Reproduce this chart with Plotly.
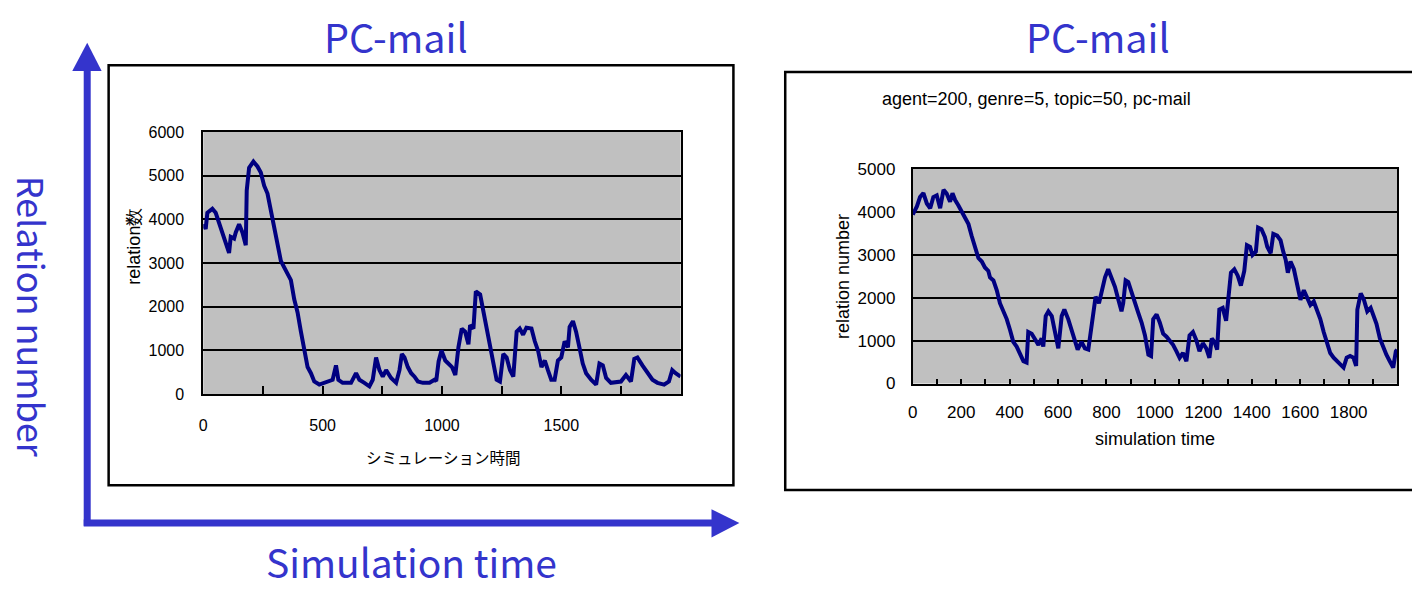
import plotly.graph_objects as go

# ---- data: relation count over simulation time ----
left_time = [0, 10, 17, 38, 52, 73, 94, 108, 115, 129, 136, 150, 164, 178, 182, 192, 210, 227, 241, 255,
             269, 283, 297, 311, 325, 339, 353, 367, 381, 395, 409, 423, 437, 451, 465, 486, 507, 528, 542, 556,
             566, 584, 619, 640, 654, 675, 696, 710, 724, 738, 752, 766, 787, 808, 822, 832, 843, 857, 871, 885,
             899, 920, 948, 969, 976, 986, 998, 1014, 1028, 1042, 1056, 1069, 1083, 1097, 1111, 1118, 1132, 1142,
             1160, 1174, 1188, 1201, 1215, 1229, 1243, 1257, 1271, 1285, 1299, 1313, 1326, 1340, 1354, 1375,
             1389, 1403, 1417, 1431, 1444, 1458, 1472, 1486, 1500, 1514, 1528, 1535, 1549, 1562, 1576, 1590,
             1604, 1625, 1646, 1660, 1674, 1688, 1708, 1750, 1771, 1792, 1806, 1819, 1840, 1861, 1882, 1903,
             1931, 1951, 1965, 1979, 2000]
left_relations = [3890, 3780, 4150, 4240, 4150, 3780, 3410, 3230, 3600, 3560, 3700, 3890, 3700, 3410, 4660, 5180,
                  5320, 5210, 5070, 4770, 4590, 4220, 3860, 3410, 3050, 2900, 2750, 2610, 2170, 1870, 1430, 1070,
                  620, 480, 290, 220, 260, 290, 330, 660, 330, 260, 260, 480, 330, 260, 180, 330, 840, 550, 400,
                  550, 370, 260, 550, 920, 840, 620, 480, 400, 290, 260, 260, 330, 300, 750, 1000, 770, 700, 620,
                  440, 1070, 1500, 1430, 1140, 1580, 1500, 2350, 2280, 1870, 1500, 1140, 700, 330, 290, 920, 840,
                  550, 400, 1430, 1500, 1360, 1520, 1500, 1210, 990, 620, 770, 550, 330, 330, 770, 840, 1210,
                  1070, 1540, 1670, 1430, 1070, 700, 480, 330, 220, 700, 660, 370, 260, 290, 440, 290, 810, 840,
                  660, 480, 330, 260, 220, 290, 550, 480, 400]

right_time = [0, 17, 30, 44, 58, 72, 85, 99, 113, 127, 140, 154, 164, 175, 188, 202, 216, 230, 243, 257, 271,
              285, 298, 312, 319, 333, 347, 360, 374, 388, 402, 415, 429, 443, 457, 470, 477, 491, 505, 519, 532,
              539, 549, 560, 574, 587, 601, 615, 626, 642, 656, 670, 681, 697, 711, 725, 732, 746, 755, 769, 780,
              794, 807, 821, 835, 849, 862, 869, 879, 890, 904, 917, 931, 945, 959, 973, 984, 993, 1007, 1020,
              1034, 1048, 1061, 1075, 1089, 1102, 1116, 1130, 1143, 1157, 1171, 1184, 1198, 1212, 1225, 1235,
              1246, 1257, 1266, 1280, 1294, 1303, 1314, 1328, 1342, 1355, 1369, 1380, 1393, 1403, 1417, 1426,
              1440, 1454, 1464, 1478, 1489, 1505, 1519, 1530, 1540, 1549, 1560, 1574, 1587, 1601, 1615, 1628,
              1642, 1656, 1669, 1683, 1697, 1710, 1724, 1738, 1751, 1765, 1779, 1792, 1806, 1820, 1831, 1836,
              1850, 1863, 1877, 1891, 1902, 1915, 1929, 1943, 1956, 1970, 1984, 1995, 2000]
right_relations = [3930, 4120, 4340, 4430, 4190, 4080, 4340, 4380, 4080, 4510, 4420, 4230, 4430, 4270, 4150,
                   4000, 3860, 3710, 3440, 3140, 2920, 2840, 2700, 2620, 2470, 2400, 2170, 1870, 1680, 1500,
                   1240, 970, 860, 670, 520, 490, 1200, 1160, 1010, 900, 1050, 860, 1570, 1680, 1570, 1200, 820,
                   1570, 1720, 1500, 1270, 1010, 790, 970, 820, 790, 1120, 1650, 2020, 1870, 2170, 2470, 2660,
                   2470, 2250, 1950, 1680, 1870, 2400, 2360, 2100, 1870, 1650, 1420, 1120, 670, 640, 1500, 1610,
                   1420, 1160, 1090, 1010, 900, 750, 600, 710, 520, 1120, 1200, 1010, 750, 940, 820, 600, 1050,
                   970, 790, 1720, 1760, 1460, 2020, 2580, 2660, 2510, 2280, 2620, 3220, 3180, 2990, 3070, 3630,
                   3590, 3410, 3180, 3030, 3480, 3440, 3330, 3070, 2880, 2580, 2840, 2660, 2280, 1950, 2170, 2020,
                   1830, 1910, 1720, 1500, 1200, 970, 710, 600, 520, 450, 370, 600, 640, 600, 410, 1720, 2100,
                   1950, 1680, 1760, 1570, 1390, 1050, 820, 670, 520, 370, 750, 790]

left_xticks = [0, 250, 500, 750, 1000, 1250, 1500, 1750, 2000]
left_xlabels = ["0", "", "500", "", "1000", "", "1500", "", ""]
left_yticks = [0, 1000, 2000, 3000, 4000, 5000, 6000]

right_xticks = list(range(0, 2001, 100))
right_xlabels = [str(v) if v % 200 == 0 and v < 2000 else "" for v in right_xticks]
right_yticks = [0, 1000, 2000, 3000, 4000, 5000]

W, H = 1412, 590
BLUE = "#3434CC"
NAVY = "#000080"
ARIAL = "Liberation Sans, Arial, sans-serif"
JP = "Noto Sans CJK JP, sans-serif"


def fx(px):
    return px / W


def fy(py):
    return 1 - py / H


fig = go.Figure()
fig.add_trace(go.Scatter(x=left_time, y=left_relations, mode="lines",
                         line=dict(color=NAVY, width=4), xaxis="x", yaxis="y",
                         showlegend=False, hoverinfo="x+y"))
fig.add_trace(go.Scatter(x=right_time, y=right_relations, mode="lines",
                         line=dict(color=NAVY, width=4), xaxis="x2", yaxis="y2",
                         showlegend=False, hoverinfo="x+y"))

axis_common = dict(showline=True, linecolor="black", linewidth=2, mirror=True,
                   zeroline=False, fixedrange=True)

fig.update_layout(
    width=W, height=H, autosize=False,
    margin=dict(l=0, r=0, t=0, b=0, pad=0),
    paper_bgcolor="white", plot_bgcolor="#C0C0C0",
    xaxis=dict(domain=[fx(199), fx(678)], range=[0, 2000], anchor="y",
               tickmode="array", tickvals=left_xticks, ticktext=left_xlabels,
               ticks="inside", ticklen=8, tickwidth=2, tickcolor="black",
               showgrid=False, ticklabelstandoff=16,
               tickfont=dict(family=ARIAL, size=16, color="black"), **axis_common),
    yaxis=dict(domain=[fy(398), fy(127)], range=[0, 6000], anchor="x",
               tickmode="array", tickvals=left_yticks,
               showgrid=True, gridcolor="black", gridwidth=1.5,
               ticks="", ticklabelstandoff=14,
               tickfont=dict(family=ARIAL, size=16, color="black"), **axis_common),
    xaxis2=dict(domain=[fx(911), fx(1397)], range=[0, 2000], anchor="y2",
                tickmode="array", tickvals=right_xticks, ticktext=right_xlabels,
                ticks="inside", ticklen=5, tickwidth=1.5, tickcolor="black",
                showgrid=False, ticklabelstandoff=12,
                tickfont=dict(family=ARIAL, size=17, color="black"), **axis_common),
    yaxis2=dict(domain=[fy(387), fy(165)], range=[0, 5000], anchor="x2",
                tickmode="array", tickvals=right_yticks,
                showgrid=True, gridcolor="black", gridwidth=1.5,
                ticks="", ticklabelstandoff=12,
                tickfont=dict(family=ARIAL, size=17, color="black"), **axis_common),
)

shapes = [
    # chart frames
    dict(type="rect", xref="paper", yref="paper", x0=fx(104), x1=fx(731), y0=fy(492), y1=fy(58),
         line=dict(color="black", width=2.5), fillcolor="rgba(0,0,0,0)", layer="below"),
    dict(type="rect", xref="paper", yref="paper", x0=fx(783), x1=fx(1420), y0=fy(497), y1=fy(65),
         line=dict(color="black", width=2.5), fillcolor="rgba(0,0,0,0)", layer="below"),
    # axis arrows
    dict(type="line", xref="paper", yref="paper", x0=fx(82.5), x1=fx(82.5), y0=fy(534), y1=fy(62),
         line=dict(color=BLUE, width=7)),
    dict(type="path", xref="paper", yref="paper",
         path=f"M {fx(67.5)} {fy(64)} L {fx(82.5)} {fy(35)} L {fx(97)} {fy(64)} Z",
         fillcolor=BLUE, line=dict(color=BLUE, width=0)),
    dict(type="line", xref="paper", yref="paper", x0=fx(79), x1=fx(712), y0=fy(531), y1=fy(531),
         line=dict(color=BLUE, width=7)),
    dict(type="path", xref="paper", yref="paper",
         path=f"M {fx(709)} {fy(517)} L {fx(737)} {fy(531)} L {fx(709)} {fy(546)} Z",
         fillcolor=BLUE, line=dict(color=BLUE, width=0)),
]
fig.update_layout(shapes=shapes)


def note(text, x, y, size, family, color="black", angle=0):
    return dict(text=text, xref="paper", yref="paper", x=fx(x), y=fy(y),
                xanchor="center", yanchor="middle", showarrow=False, textangle=angle,
                font=dict(family=family, size=size, color=color))


fig.update_layout(annotations=[
    note("PC-mail", 392, 27, 39.5, JP, BLUE),
    note("PC-mail", 1097, 27, 39.5, JP, BLUE),
    note("Simulation time", 408, 570, 39, JP, BLUE),
    note("Relation number", 28, 318, 36, JP, BLUE, angle=90),
    note("relation数", 130, 245, 18, ARIAL, angle=-90),
    note("シミュレーション時間", 440, 463, 15.5, JP),
    note("agent=200, genre=5, topic=50, pc-mail", 1035, 93, 18, ARIAL),
    note("relation number", 841, 277, 18, ARIAL, angle=-90),
    note("simulation time", 1154, 444, 18, ARIAL),
])

fig.write_html("out.html")
